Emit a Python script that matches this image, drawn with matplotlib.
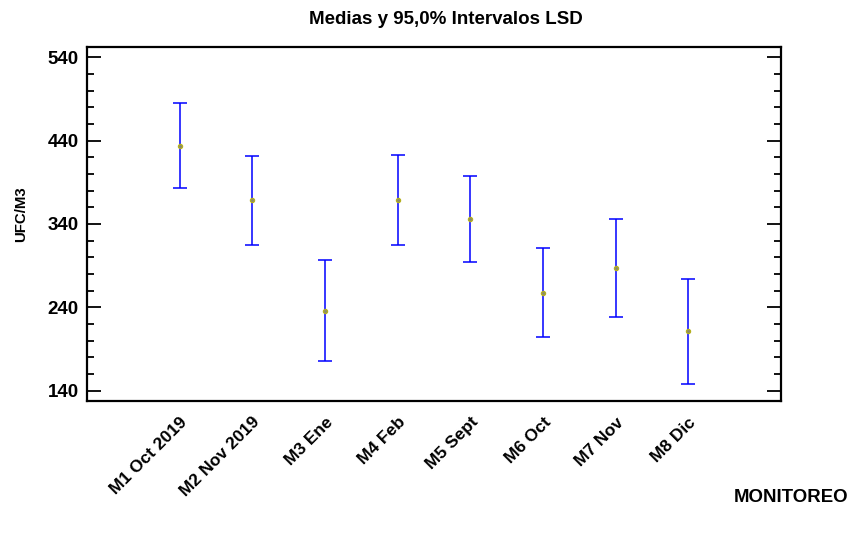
import matplotlib
matplotlib.use("Agg")
import matplotlib.pyplot as plt
from matplotlib.ticker import MultipleLocator
import numpy as np

categories = ["M1 Oct 2019", "M2 Nov 2019", "M3 Ene", "M4 Feb", "M5 Sept", "M6 Oct", "M7 Nov", "M8 Dic"]
means = [434.0, 368.2, 236.0, 368.8, 346.4, 257.6, 287.6, 211.3]
lower = [382.8, 315.2, 175.6, 315.2, 294.8, 204.0, 228.8, 147.7]
upper = [485.5, 421.6, 296.8, 423.2, 397.6, 311.6, 346.4, 274.4]
yticks = [140, 240, 340, 440, 540]

plt.rcParams['font.family'] = ['Liberation Sans', 'DejaVu Sans']
plt.rcParams['font.weight'] = 'bold'

fig = plt.figure(figsize=(8.54, 5.35), dpi=100)
ax = fig.add_axes([87/854, 1-400.7/535, (781-87)/854, (400.7-47.3)/535])

x = np.arange(1, len(categories)+1)
m = np.array(means); lo = np.array(lower); up = np.array(upper)
ax.errorbar(x, m, yerr=[m-lo, up-m], fmt='none', ecolor='#0000ff', elinewidth=1.1,
            capsize=5, capthick=1.1, zorder=2)
ax.plot(x, m, 'o', ms=3.0, mfc='#8a8a6a', mec='#b5b020', mew=0.9, zorder=3)

ax.set_xlim(4.5-4.775, 4.5+4.775)
ax.set_ylim(128, 552)
ax.set_yticks(yticks)
ax.yaxis.set_minor_locator(MultipleLocator(20))
ax.set_xticks(x)
ax.set_xticklabels(categories, rotation=45, ha='right', rotation_mode='anchor', fontsize=12.5, fontweight='bold')
ax.tick_params(axis='x', length=0, pad=10)
ax.tick_params(axis='y', which='major', direction='in', length=10, width=1.3, labelsize=13.5, pad=6, right=True)
ax.tick_params(axis='y', which='minor', direction='in', length=5, width=1.3, right=True)
for s in ax.spines.values():
    s.set_linewidth(1.6)
for lab in ax.get_yticklabels():
    lab.set_fontweight('bold')

fig.text(446/854, 1-19/535, "Medias y 95,0% Intervalos LSD", ha='center', va='center', fontsize=13.5, fontweight='bold')
fig.text(21/854, 1-214/535, "UFC/M3", rotation=90, ha='center', va='center', fontsize=10.8, fontweight='bold')
fig.text(848/854, 1-497/535, "MONITOREO", ha='right', va='center', fontsize=13.4, fontweight='bold')

fig.savefig("out.png", dpi=100)
